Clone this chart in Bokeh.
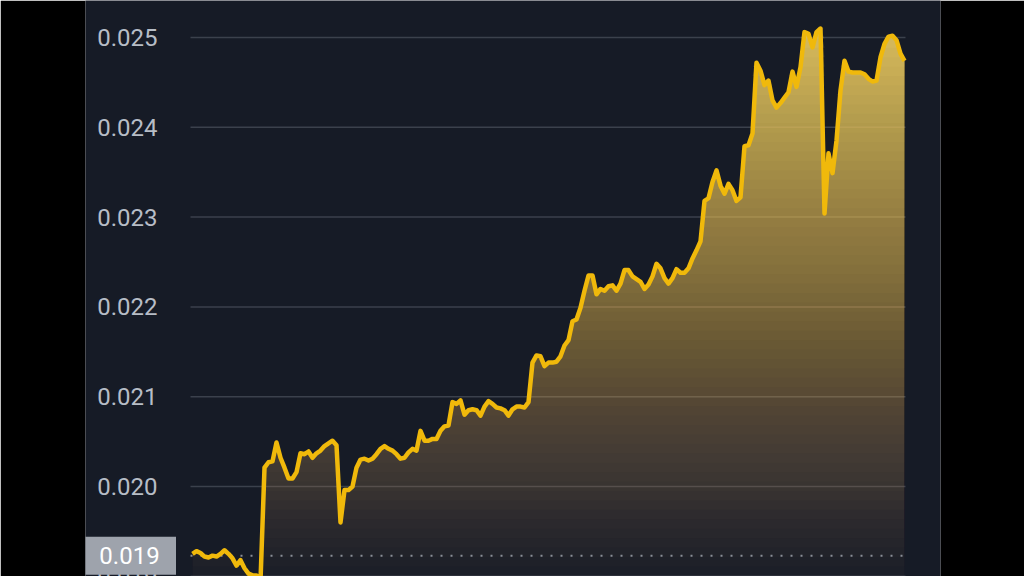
import numpy as np
from bokeh.plotting import figure
from bokeh.models import Range1d
from bokeh.core.properties import value
from bokeh.embed import file_html
from bokeh.resources import INLINE

# ---- data (price samples, evenly spaced in time) ----
prices = [
    0.01925, 0.01928, 0.01926, 0.01922, 0.01921, 0.01923, 0.01922, 0.01925, 0.01929, 0.01925,
    0.01920, 0.01912, 0.01918, 0.01909, 0.01903, 0.01901, 0.01901, 0.01895, 0.02021, 0.02027,
    0.02028, 0.02049, 0.02032, 0.02021, 0.02009, 0.02009, 0.02016, 0.02037, 0.02036, 0.02039,
    0.02032, 0.02037, 0.02040, 0.02045, 0.02048, 0.02051, 0.02046, 0.01960, 0.01996, 0.01996,
    0.02000, 0.02021, 0.02030, 0.02031, 0.02029, 0.02031, 0.02036, 0.02042, 0.02045, 0.02042,
    0.02040, 0.02036, 0.02031, 0.02032, 0.02038, 0.02042, 0.02040, 0.02062, 0.02051, 0.02051,
    0.02053, 0.02053, 0.02062, 0.02067, 0.02068, 0.02094, 0.02092, 0.02096, 0.02080, 0.02085,
    0.02086, 0.02085, 0.02079, 0.02089, 0.02095, 0.02092, 0.02088, 0.02087, 0.02085, 0.02079,
    0.02086, 0.02089, 0.02089, 0.02088, 0.02094, 0.02138, 0.02146, 0.02145, 0.02134, 0.02138,
    0.02138, 0.02139, 0.02145, 0.02157, 0.02163, 0.02184, 0.02186, 0.02199, 0.02218, 0.02235,
    0.02235, 0.02214, 0.02220, 0.02218, 0.02223, 0.02224, 0.02218, 0.02226, 0.02241, 0.02241,
    0.02234, 0.02231, 0.02228, 0.02220, 0.02225, 0.02234, 0.02248, 0.02243, 0.02232, 0.02226,
    0.02232, 0.02242, 0.02238, 0.02238, 0.02243, 0.02254, 0.02263, 0.02273, 0.02318, 0.02321,
    0.02339, 0.02352, 0.02335, 0.02326, 0.02337, 0.02330, 0.02318, 0.02322, 0.02379, 0.02380,
    0.02393, 0.02472, 0.02463, 0.02447, 0.02452, 0.02430, 0.02422, 0.02427, 0.02433, 0.02439,
    0.02462, 0.02445, 0.02467, 0.02506, 0.02504, 0.02489, 0.02506, 0.02510, 0.02304, 0.02371,
    0.02349, 0.02385, 0.02441, 0.02474, 0.02462, 0.02461, 0.02461, 0.02461, 0.02459, 0.02454,
    0.02451, 0.02452, 0.02478, 0.02493, 0.02501, 0.02502, 0.02497, 0.02482, 0.02474,
]
y_ticks = [0.019, 0.020, 0.021, 0.022, 0.023, 0.024, 0.025]
tick_labels = ["0.019", "0.020", "0.021", "0.022", "0.023", "0.024", "0.025"]
open_price = 0.01923
open_label = "0.019"

# ---- styling ----
NAVY = "#161b26"
LINE = "#f0b90b"
FILL = "#f0d068"
GRID = "#3b414c"
LABEL = "#b7bdc6"
FONT = "Roboto"

N = len(prices)
idx = np.arange(N)
vals = np.array(prices)

# layout constants (screen px)
PX = 4.0          # px per sample
PLOT_L = 107      # px from frame left to first sample
PLOT_R = 36       # px from last sample to frame right
GRID_L = 2        # gridlines start this many px left of first sample
GRID_R = 1        # gridlines end this many px right of last sample
LABEL_GAP = 33    # px between tick label right edge and grid start
BOX_C = 61        # px from box centre to grid start
x_lo = -PLOT_L / PX
x_hi = (N - 1) + PLOT_R / PX

p = figure(width=1024, height=576, output_backend="svg", toolbar_location=None,
           x_range=Range1d(x_lo, x_hi), y_range=Range1d(0.018998, 0.025412),
           x_axis_location=None, y_axis_location=None,
           background_fill_color=NAVY, border_fill_color="#000000", outline_line_color=None,
           min_border_left=85, min_border_right=84, min_border_top=0, min_border_bottom=0)
p.grid.visible = False

gx0 = -GRID_L / PX
gx1 = (N - 1) + GRID_R / PX

# horizontal gridlines at the price ticks
p.segment(x0=gx0, y0=y_ticks, x1=gx1, y1=y_ticks, line_color=GRID, line_width=1.5)

# tick labels
p.text(x=gx0 - LABEL_GAP / PX, y=y_ticks, text=tick_labels,
       text_align="right", text_baseline="middle",
       text_font=value(FONT), text_font_size="24px", text_color=LABEL)

# vertical gradient fill built from stacked translucent bands
K = 60
lo, hi = 0.0189, 0.0252
amax = 0.93
for k in range(K):
    t = lo + k * (hi - lo) / K
    a_prev = amax * k / K
    a_new = amax * (k + 1) / K
    a = 1 - (1 - a_new) / (1 - a_prev)
    p.varea(x=idx, y1=t, y2=np.maximum(vals, t), fill_color=FILL, fill_alpha=a)

# dotted reference line at the opening price
p.segment(x0=gx0, y0=open_price, x1=gx1, y1=open_price,
          line_color="#8a8f98", line_width=2, line_dash="2 8")

p.line(idx, vals, line_color=LINE, line_width=4.5, line_join="round")

# price tag box on the left
bx = gx0 - BOX_C / PX
p.rect(x=bx, y=open_price, width=93, height=38, width_units="screen", height_units="screen",
       fill_color="#9ea3ac", line_color=None)
p.text(x=bx, y=open_price, text=[open_label], text_align="center", text_baseline="middle",
       text_font=value(FONT), text_font_size="24px", text_color="#ffffff")

open("out.html", "w").write(file_html(p, INLINE, title="chart"))
